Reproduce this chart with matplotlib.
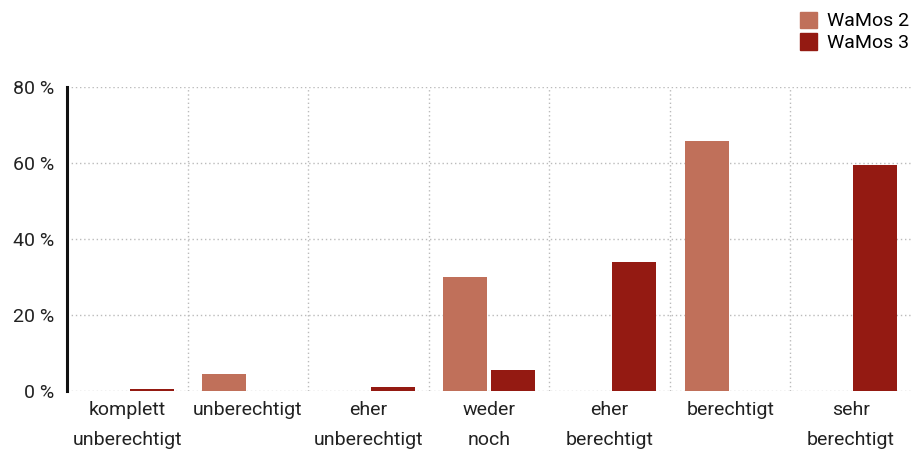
import matplotlib
matplotlib.use("Agg")
import matplotlib.pyplot as plt
import numpy as np
from matplotlib.ticker import FixedLocator, FuncFormatter
from matplotlib.patches import Patch

categories = ["komplett\nunberechtigt", "unberechtigt", "eher\nunberechtigt", "weder\nnoch",
              "eher\nberechtigt", "berechtigt", "sehr\nberechtigt"]
wamos2 = [0.0, 4.5, 0.0, 30.0, 0.0, 65.8, 0.0]
wamos3 = [0.4, 0.0, 1.0, 5.5, 34.0, 0.0, 59.5]
series_names = ["WaMos 2", "WaMos 3"]
colors = ["#C0705A", "#941A12"]

plt.rcParams['font.family'] = ['Roboto', 'DejaVu Sans']

fig = plt.figure(figsize=(9.21, 4.49), dpi=100)
ax = fig.add_axes([67/921, 1-391/449, (911-67)/921, (391-87)/449])

x = np.arange(len(categories))
w = 0.365
ax.bar(x - 0.195, wamos2, width=w, color=colors[0], zorder=3)
ax.bar(x + 0.203, wamos3, width=w, color=colors[1], zorder=3)

fs = 14
ax.set_xlim(-0.5, len(categories) - 0.5)
ax.set_ylim(0, 80)
ax.set_yticks([0, 20, 40, 60, 80])
ax.yaxis.set_major_formatter(FuncFormatter(lambda v, p: f"{int(v)} %"))
ax.set_xticks(x)
ax.set_xticklabels(categories, fontsize=fs, linespacing=1.85, color="#222222")
ax.xaxis.set_minor_locator(FixedLocator(np.arange(0.5, len(categories) - 0.5, 1)))
ax.tick_params(axis='x', which='both', length=0, pad=7)
ax.tick_params(axis='y', length=0, labelsize=fs, pad=9, labelcolor="#222222")

ax.grid(axis='y', which='major', linestyle=(0, (1, 2)), color="#bbbbbb", linewidth=1, zorder=0)
ax.grid(axis='x', which='minor', linestyle=(0, (1, 2)), color="#bbbbbb", linewidth=1, zorder=0)
ax.grid(axis='x', which='major', visible=False)

for s in ['top', 'right', 'bottom']:
    ax.spines[s].set_visible(False)
ax.spines['left'].set_linewidth(2.2)
ax.spines['left'].set_color("#111111")

handles = [Patch(color=c, label=n) for c, n in zip(colors, series_names)]
fig.legend(handles=handles, loc='upper right', bbox_to_anchor=(1.0, 1.0), frameon=False,
           fontsize=fs, handlelength=0.9, handleheight=0.9, handletextpad=0.5,
           labelspacing=0.15, borderaxespad=0.2)

fig.savefig("out.png", dpi=100)
